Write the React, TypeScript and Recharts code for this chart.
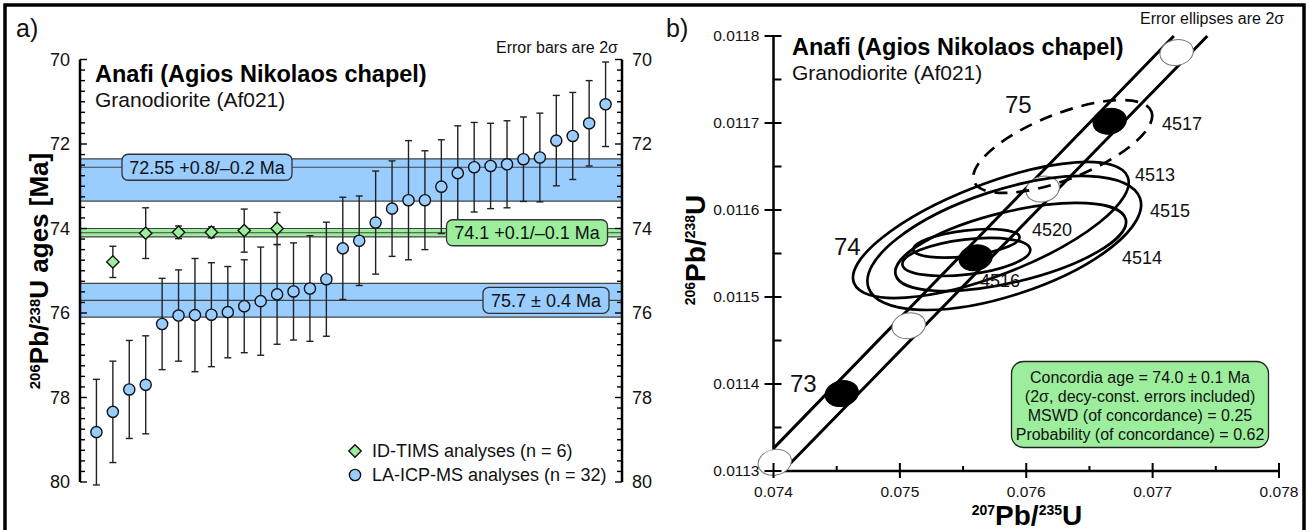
import React from 'react';
import {
  ScatterChart,
  Scatter,
  XAxis,
  YAxis,
  ErrorBar,
  ReferenceArea,
  ReferenceLine,
  Legend,
} from 'recharts';

// ---------- a) 206Pb/238U ages ----------
// LA-ICP-MS spots, sorted oldest -> youngest (Ma, 2σ)
const lasAges = [
  78.82, 78.34, 77.81, 77.7, 76.26, 76.06, 76.05, 76.04, 75.98, 75.84, 75.72, 75.56, 75.49, 75.42, 75.2, 74.47,
  74.29, 73.86, 73.53, 73.33, 73.33, 73.01, 72.69, 72.55, 72.52, 72.48, 72.36, 72.32, 71.92, 71.81, 71.51, 71.06,
];
const lasErrors = [
  1.25, 1.2, 1.16, 1.16, 1.08, 1.08, 1.34, 1.23, 1.08, 1.1, 1.28, 1.18, 1.15, 1.25, 1.35, 1.21,
  1.06, 1.22, 1.13, 1.41, 1.17, 1.11, 1.12, 1.06, 1.01, 1.03, 1.0, 1.05, 1.07, 1.03, 1.01, 1.0,
];

// ID-TIMS fractions, placed between the LA-ICP-MS slots
const timsSlots = [1, 3, 5, 7, 9, 11];
const timsAges = [74.79, 74.11, 74.09, 74.09, 74.05, 74.0];
const timsErrors = [0.37, 0.6, 0.15, 0.13, 0.51, 0.38];

// weighted-mean / population ages shown as bands
const bandAges = [72.55, 74.1, 75.7];
const bandPlus = [0.8, 0.1, 0.4];
const bandMinus = [0.2, 0.1, 0.4];
const bandMethod = ['las', 'tims', 'las'];
const bandFormat = ['asym', 'asym', 'sym'];

const ageMajorTicks = [70, 72, 74, 76, 78, 80];

// ---------- b) concordia ----------
const concAges = [72.5, 73, 73.5, 74, 74.5, 75, 75.5];
const concX = [0.07401, 0.07454, 0.07507, 0.0756, 0.07613, 0.07666, 0.07719];
const concY = [0.01131, 0.011389, 0.011467, 0.011545, 0.011624, 0.011702, 0.011781];

// decay-constant envelope of the concordia
const envUpperX = [0.074, 0.077168];
const envUpperY = [0.011326, 0.0118];
const envLowerX = [0.074134, 0.077433];
const envLowerY = [0.0113089, 0.0118];

// ID-TIMS analyses: 207Pb/235U, 206Pb/238U, 2σ errors and error correlation
const spotIds = ['4513', '4514', '4515', '4516', '4517', '4520'];
const spotX = [0.07572, 0.075877, 0.075826, 0.075526, 0.076289, 0.075526];
const spotY = [0.011577, 0.0115575, 0.0115621, 0.011546, 0.011673, 0.0115617];
const spotErrX = [0.001091, 0.000913, 0.001083, 0.000506, 0.000708, 0.000421];
const spotErrY = [0.0000782, 0.0000506, 0.000077, 0.0000218, 0.0000534, 0.0000164];
const spotRho = [0.7, 0.57, 0.57, 0.37, 0.66, 0.42];
const excludedSpots = ['4517'];

const ratioXTicks = [0.074, 0.0745, 0.075, 0.0755, 0.076, 0.0765, 0.077, 0.0775, 0.078];
const ratioXMajor = [0.074, 0.075, 0.076, 0.077, 0.078];
const ratioYTicks = [0.0113, 0.01135, 0.0114, 0.01145, 0.0115, 0.01155, 0.0116, 0.01165, 0.0117, 0.01175, 0.0118];
const ratioYMajor = [0.0113, 0.0114, 0.0115, 0.0116, 0.0117, 0.0118];

const concordiaAge = 74.0;
const concordiaErr = 0.1;
const concordiaMswd = 0.25;
const concordiaProb = 0.62;

// ---------- derived tables ----------
const lasData = lasAges.map((age, i) => ({ slot: i, age, err: lasErrors[i] }));
const timsData = timsAges.map((age, i) => ({ slot: timsSlots[i], age, err: timsErrors[i] }));
const bands = bandAges.map((age, i) => ({
  age,
  lo: age - bandMinus[i],
  hi: age + bandPlus[i],
  method: bandMethod[i],
  text:
    bandFormat[i] === 'sym'
      ? `${age} ± ${bandPlus[i]} Ma`
      : `${age} +${bandPlus[i]}/–${bandMinus[i]} Ma`,
}));
const ageTicks = Array.from({ length: 41 }, (_, i) => 70 + i * 0.25);

const concData = concAges.map((age, i) => ({ age, x: concX[i], y: concY[i] }));
const envUpper = envUpperX.map((x, i) => ({ x, y: envUpperY[i] }));
const envLower = envLowerX.map((x, i) => ({ x, y: envLowerY[i] }));
const spotData = spotIds.map((id, i) => ({
  id,
  x: spotX[i],
  y: spotY[i],
  ex: spotErrX[i],
  ey: spotErrY[i],
  rho: spotRho[i],
  excluded: excludedSpots.includes(id),
}));

const TIMS_NAME = `ID-TIMS analyses (n = ${timsData.length})`;
const LAS_NAME = `LA-ICP-MS analyses (n = ${lasData.length})`;

const BLUE = '#99ccff';
const GREEN = '#9cee9c';
const FONT = '"Liberation Sans", Arial, Helvetica, sans-serif';

// panel b layout (pixels per ratio unit follow from the plot box)
const B_W = 660;
const B_H = 530;
const B_MARGIN = { top: 36, right: 31, bottom: 0, left: 0 };
const B_YAXIS_W = 123.5;
const B_XAXIS_H = 59;
const KX = (B_W - B_MARGIN.right - B_YAXIS_W) / (0.078 - 0.074);
const KY = (B_H - B_MARGIN.top - B_XAXIS_H) / (0.0118 - 0.0113);

const Blank = () => <g />;

const ellipseGeometry = (ex: number, ey: number, rho: number) => {
  const a = ex * KX;
  const b = ey * KY;
  const A = a * a;
  const B = b * b;
  const C = -rho * a * b; // screen y points down
  const mid = (A + B) / 2;
  const diff = Math.sqrt(((A - B) / 2) ** 2 + C * C);
  return {
    rx: Math.sqrt(mid + diff),
    ry: Math.sqrt(Math.max(mid - diff, 0)),
    angle: (0.5 * Math.atan2(2 * C, A - B) * 180) / Math.PI,
  };
};

const SpotEllipse = (props: any) => {
  const { cx, cy, payload } = props;
  if (cx == null || !payload) return <g />;
  const g = ellipseGeometry(payload.ex, payload.ey, payload.rho);
  return (
    <ellipse
      cx={cx}
      cy={cy}
      rx={g.rx}
      ry={g.ry}
      transform={`rotate(${g.angle} ${cx} ${cy})`}
      fill="none"
      stroke="#000"
      strokeWidth={2.7}
      strokeDasharray={payload.excluded ? '13 9' : undefined}
    />
  );
};

// concordia age ticks drawn as small decay-constant ellipses
const AgeMarker = (props: any) => {
  const { cx, cy, payload } = props;
  if (cx == null || !payload) return <g />;
  const g = ellipseGeometry(0.000132, 0.0000149, 0.12);
  const whole = Number.isInteger(payload.age);
  return (
    <ellipse
      cx={cx}
      cy={cy}
      rx={g.rx}
      ry={g.ry}
      transform={`rotate(${g.angle} ${cx} ${cy})`}
      fill={whole ? '#000' : '#fff'}
      stroke={whole ? '#000' : '#777'}
      strokeWidth={1}
    />
  );
};

const Circle = (props: any) => (
  <circle cx={props.cx} cy={props.cy} r={5.6} fill={BLUE} stroke="#111" strokeWidth={1.4} />
);

const Diamond = (props: any) => {
  const { cx, cy } = props;
  const d = 6.2;
  return (
    <polygon
      points={`${cx},${cy - d} ${cx + d},${cy} ${cx},${cy + d} ${cx - d},${cy}`}
      fill={GREEN}
      stroke="#111"
      strokeWidth={1.4}
    />
  );
};

const AgeAxisTick = (props: any) => {
  const { x, y, payload, side } = props;
  const v = payload.value;
  const major = ageMajorTicks.includes(v);
  const dir = side === 'left' ? 1 : -1;
  return (
    <g>
      <line x1={x} x2={x + dir * (major ? 7 : 5)} y1={y} y2={y} stroke="#000" strokeWidth={1.4} />
      {major && (
        <text
          x={x - dir * 10}
          y={y}
          dy="0.36em"
          textAnchor={side === 'left' ? 'end' : 'start'}
          fontSize={18}
          fill="#111"
        >
          {v}
        </text>
      )}
    </g>
  );
};

const RatioYTick = (props: any) => {
  const { x, y, payload } = props;
  const major = ratioYMajor.includes(payload.value);
  return (
    <g>
      <line x1={major ? x - 9 : x} x2={x + 8} y1={y} y2={y} stroke="#000" strokeWidth={2} />
      {major && (
        <text x={x - 14} y={y} dy="0.35em" textAnchor="end" fontSize={15.5} fill="#111">
          {payload.value}
        </text>
      )}
    </g>
  );
};

const RatioXTick = (props: any) => {
  const { x, y, payload } = props;
  const major = ratioXMajor.includes(payload.value);
  return (
    <g>
      <line x1={x} x2={x} y1={y - (major ? 8 : 5)} y2={major ? y + 7 : y} stroke="#000" strokeWidth={2} />
      {major && (
        <text x={x} y={y + 26} textAnchor="middle" fontSize={15.5} fill="#111">
          {payload.value}
        </text>
      )}
    </g>
  );
};

const BandLabel = (props: any) => {
  const { viewBox, text, center, boxWidth, fill } = props;
  if (!viewBox) return null;
  const y = viewBox.y;
  return (
    <g>
      <rect
        x={center - boxWidth / 2}
        y={y - 13}
        width={boxWidth}
        height={26}
        rx={6}
        fill={fill}
        stroke="#333"
        strokeWidth={1.3}
      />
      <text x={center} y={y} dy="0.36em" textAnchor="middle" fontSize={18} fill="#111">
        {text}
      </text>
    </g>
  );
};

// label box placement along each band
const bandLabelCenter = [207, 527, 546];
const bandLabelWidth = [170, 161, 126];

const LegendContent = (props: any) => {
  const items = (props.payload || [])
    .map((entry: any) => String(entry?.value ?? entry?.payload?.name ?? ''))
    .filter((name: string) => name === TIMS_NAME || name === LAS_NAME);
  return (
    <div style={{ fontSize: 18, color: '#111' }}>
      {items.map((name: string) => (
        <div key={name} style={{ display: 'flex', alignItems: 'center', height: 24 }}>
          <svg width={24} height={24}>
            {name === TIMS_NAME ? <Diamond cx={11} cy={12} /> : <Circle cx={11} cy={12} />}
          </svg>
          <span style={{ marginLeft: 4 }}>{name}</span>
        </div>
      ))}
    </div>
  );
};

const AgePanel = () => (
  <ScatterChart width={662} height={530} margin={{ top: 59.5, right: 12, bottom: 48, left: 0 }}>
    <XAxis type="number" dataKey="slot" domain={[-1, 32]} hide />
    <YAxis
      yAxisId="age"
      type="number"
      dataKey="age"
      domain={[70, 80]}
      reversed
      allowDataOverflow
      ticks={ageTicks}
      interval={0}
      width={80}
      axisLine={{ stroke: '#000', strokeWidth: 2.5 }}
      tickLine={false}
      tickSize={0}
      tickMargin={0}
      tick={<AgeAxisTick side="left" />}
    />
    <YAxis
      yAxisId="ageR"
      orientation="right"
      type="number"
      dataKey="age"
      domain={[70, 80]}
      reversed
      allowDataOverflow
      ticks={ageTicks}
      interval={0}
      width={28}
      axisLine={{ stroke: '#000', strokeWidth: 2.5 }}
      tickLine={false}
      tickSize={0}
      tickMargin={0}
      tick={<AgeAxisTick side="right" />}
    />
    {bands.map((b) => (
      <ReferenceArea
        key={`area-${b.age}`}
        yAxisId="age"
        y1={b.lo}
        y2={b.hi}
        fill={b.method === 'tims' ? GREEN : BLUE}
        fillOpacity={1}
        stroke="#444"
        strokeWidth={1.2}
      />
    ))}
    {bands.map((b) => (
      <ReferenceLine key={`line-${b.age}`} yAxisId="age" y={b.age} stroke="#444" strokeWidth={1.2} />
    ))}
    <Scatter yAxisId="ageR" data={lasData} shape={Blank} legendType="none" isAnimationActive={false} />
    <Scatter yAxisId="age" name={TIMS_NAME} data={timsData} shape={Diamond} isAnimationActive={false}>
      <ErrorBar dataKey="err" direction="y" width={3.5} stroke="#222" strokeWidth={1.4} />
    </Scatter>
    <Scatter yAxisId="age" name={LAS_NAME} data={lasData} shape={Circle} isAnimationActive={false}>
      <ErrorBar dataKey="err" direction="y" width={3.5} stroke="#222" strokeWidth={1.4} />
    </Scatter>
    {bands.map((b, i) => (
      <ReferenceLine
        key={`label-${b.age}`}
        yAxisId="age"
        y={b.age}
        stroke="none"
        label={
          <BandLabel
            text={b.text}
            center={bandLabelCenter[i]}
            boxWidth={bandLabelWidth[i]}
            fill={b.method === 'tims' ? GREEN : BLUE}
          />
        }
      />
    ))}
    <Legend
      layout="vertical"
      align="center"
      verticalAlign="middle"
      wrapperStyle={{ left: 344, top: 439, width: 290 }}
      content={<LegendContent />}
    />
  </ScatterChart>
);

const ConcordiaPanel = () => (
  <ScatterChart width={B_W} height={B_H} margin={B_MARGIN}>
    <XAxis
      type="number"
      dataKey="x"
      domain={[0.074, 0.078]}
      ticks={ratioXTicks}
      interval={0}
      height={B_XAXIS_H}
      axisLine={{ stroke: '#000', strokeWidth: 2.5 }}
      tickLine={false}
      tickSize={0}
      tickMargin={0}
      tick={<RatioXTick />}
    />
    <YAxis
      type="number"
      dataKey="y"
      domain={[0.0113, 0.0118]}
      ticks={ratioYTicks}
      interval={0}
      width={B_YAXIS_W}
      axisLine={{ stroke: '#000', strokeWidth: 2.5 }}
      tickLine={false}
      tickSize={0}
      tickMargin={0}
      tick={<RatioYTick />}
    />
    <Scatter data={envUpper} line={{ stroke: '#000', strokeWidth: 3 }} shape={Blank} isAnimationActive={false} />
    <Scatter data={envLower} line={{ stroke: '#000', strokeWidth: 3 }} shape={Blank} isAnimationActive={false} />
    <Scatter data={concData} shape={AgeMarker} isAnimationActive={false} />
    <Scatter data={spotData} shape={SpotEllipse} isAnimationActive={false} />
  </ScatterChart>
);

const Sup = ({ children, size, rise }: any) => (
  <tspan fontSize={size} dy={-rise}>
    {children}
  </tspan>
);

export default function App() {
  return (
    <div
      style={{
        position: 'absolute',
        left: 0,
        top: 0,
        width: 1310,
        height: 530,
        background: '#fff',
        fontFamily: FONT,
        color: '#111',
      }}
    >
      <div style={{ position: 'absolute', left: 650, top: 0 }}>
        <ConcordiaPanel />
      </div>
      <div style={{ position: 'absolute', left: 0, top: 0 }}>
        <AgePanel />
      </div>
      <svg
        width={1310}
        height={530}
        style={{ position: 'absolute', left: 0, top: 0, pointerEvents: 'none', fontFamily: FONT }}
      >
        <path d="M5 530 V5 H1304 V530" fill="none" stroke="#000" strokeWidth={3.5} />

        {/* panel a */}
        <text x={16} y={37} fontSize={25} fill="#111">a)</text>
        <text x={95} y={82} fontSize={23.5} fontWeight="bold" fill="#000">Anafi (Agios Nikolaos chapel)</text>
        <text x={95} y={107} fontSize={21} fill="#111">Granodiorite (Af021)</text>
        <text x={496} y={53} fontSize={16} fill="#111">Error bars are 2σ</text>
        <text transform="translate(48,271) rotate(-90)" textAnchor="middle" fontSize={26} fontWeight="bold" fill="#000">
          <Sup size={15} rise={8}>206</Sup>
          <tspan dy={8}>Pb/</tspan>
          <Sup size={15} rise={8}>238</Sup>
          <tspan dy={8}>U ages [Ma]</tspan>
        </text>

        {/* panel b */}
        <text x={666} y={37} fontSize={25} fill="#111">b)</text>
        <text x={792} y={55} fontSize={23.5} fontWeight="bold" fill="#000">Anafi (Agios Nikolaos chapel)</text>
        <text x={792} y={80} fontSize={21} fill="#111">Granodiorite (Af021)</text>
        <text x={1140} y={24} fontSize={16} fill="#111">Error ellipses are 2σ</text>

        <text x={1005} y={113} fontSize={24} fill="#111">75</text>
        <text x={834} y={255} fontSize={24} fill="#111">74</text>
        <text x={790} y={392} fontSize={24} fill="#111">73</text>

        <text x={1162} y={130} fontSize={18} fill="#111">4517</text>
        <text x={1135} y={181} fontSize={18} fill="#111">4513</text>
        <text x={1150} y={217} fontSize={18} fill="#111">4515</text>
        <text x={1032} y={236} fontSize={18} fill="#111">4520</text>
        <text x={1122} y={264} fontSize={18} fill="#111">4514</text>
        <text x={980} y={287} fontSize={18} fill="#111">4516</text>

        <rect x={1011.5} y={361.5} width={257} height={86} rx={12} fill={GREEN} stroke="#222" strokeWidth={1.3} />
        <g fontSize={16} fill="#111" textAnchor="middle">
          <text x={1140} y={383}>{`Concordia age = ${concordiaAge.toFixed(1)} ± ${concordiaErr} Ma`}</text>
          <text x={1140} y={402}>(2σ, decy-const. errors included)</text>
          <text x={1140} y={421}>{`MSWD (of concordance) = ${concordiaMswd}`}</text>
          <text x={1140} y={440}>{`Probability (of concordance) = ${concordiaProb}`}</text>
        </g>

        <text x={1027} y={525} textAnchor="middle" fontSize={28} fontWeight="bold" fill="#000">
          <Sup size={14} rise={10}>207</Sup>
          <tspan dy={10}>Pb/</tspan>
          <Sup size={14} rise={10}>235</Sup>
          <tspan dy={10}>U</tspan>
        </text>
        <text transform="translate(705,250) rotate(-90)" textAnchor="middle" fontSize={28} fontWeight="bold" fill="#000">
          <Sup size={14} rise={10}>206</Sup>
          <tspan dy={10}>Pb/</tspan>
          <Sup size={14} rise={10}>238</Sup>
          <tspan dy={10}>U</tspan>
        </text>
      </svg>
    </div>
  );
}
